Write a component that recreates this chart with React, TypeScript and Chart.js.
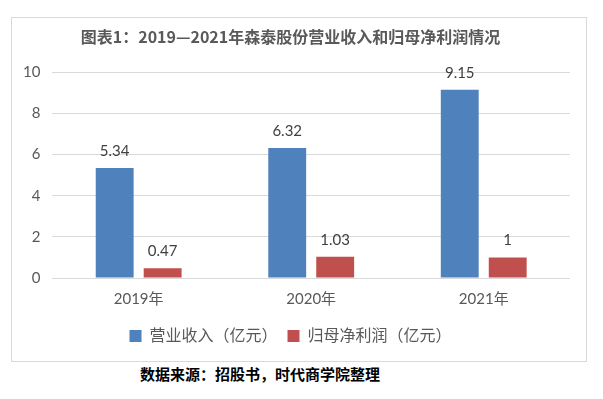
import React, { useEffect, useRef } from "react";
import { Chart, registerables } from "chart.js";

Chart.register(...registerables);

const categories = ["2019年", "2020年", "2021年"];
const revenue = [5.34, 6.32, 9.15];
const netProfit = [0.47, 1.03, 1.0];
const revenueLabels = ["5.34", "6.32", "9.15"];
const profitLabels = ["0.47", "1.03", "1"];
const seriesNames = ["营业收入（亿元）", "归母净利润（亿元）"];
const yTicks = [0, 2, 4, 6, 8, 10];
const titleText = "图表1：2019—2021年森泰股份营业收入和归母净利润情况";
const sourceText = "数据来源：招股书，时代商学院整理";

const FONT = "Lato, 'Noto Sans CJK SC', sans-serif";

const valueLabelPlugin = {
  id: "valueLabels",
  afterDatasetsDraw(chart: any) {
    const ctx = chart.ctx;
    const all = [revenueLabels, profitLabels];
    ctx.save();
    ctx.font = `15px ${FONT}`;
    ctx.fillStyle = "#404040";
    ctx.textAlign = "center";
    ctx.textBaseline = "alphabetic";
    chart.data.datasets.forEach((_: any, di: number) => {
      const meta = chart.getDatasetMeta(di);
      meta.data.forEach((bar: any, i: number) => {
        ctx.fillText(all[di][i], bar.x, bar.y - 12);
      });
    });
    ctx.restore();
  },
};

export default function App() {
  const ref = useRef<HTMLCanvasElement>(null);
  useEffect(() => {
    if (!ref.current) return;
    const chart = new Chart(ref.current, {
      type: "bar",
      data: {
        labels: categories,
        datasets: [
          {
            label: seriesNames[0],
            data: revenue,
            backgroundColor: "#4f81bd",
            barPercentage: 0.79,
            categoryPercentage: 0.556,
          },
          {
            label: seriesNames[1],
            data: netProfit,
            backgroundColor: "#c0504d",
            barPercentage: 0.79,
            categoryPercentage: 0.556,
          },
        ],
      },
      options: {
        responsive: false,
        animation: false,
        layout: { padding: { left: -1, right: 16, top: 0, bottom: 7 } },
        plugins: {
          title: {
            display: true,
            text: titleText,
            color: "#595959",
            font: { family: "'Noto Sans CJK SC', sans-serif", size: 16, weight: "bold" },
            padding: { top: 9, bottom: 26 },
          },
          legend: {
            position: "bottom",
            labels: {
              color: "#595959",
              font: { family: FONT, size: 16 },
              boxWidth: 12,
              boxHeight: 12,
              padding: 10,
            },
          },
          tooltip: { enabled: false },
        },
        scales: {
          x: {
            grid: { display: false },
            border: { display: false },
            ticks: { color: "#595959", font: { family: FONT, size: 15 }, padding: 4 },
            afterFit: (axis: any) => {
              axis.height += 6;
            },
          },
          y: {
            min: 0,
            max: 10,
            afterBuildTicks: (axis: any) => {
              axis.ticks = yTicks.map((v) => ({ value: v }));
            },
            grid: { color: "#d9d9d9", drawTicks: false },
            border: { display: false },
            ticks: { color: "#595959", font: { family: FONT, size: 15 }, padding: 12 },
          },
        },
      },
      plugins: [valueLabelPlugin],
    });
    return () => chart.destroy();
  }, []);

  return (
    <div style={{ position: "absolute", left: 0, top: 0, width: 603, height: 399, background: "#fff" }}>
      <div
        style={{
          position: "absolute",
          left: 11,
          top: 17,
          width: 574,
          height: 343,
          border: "1px solid #d9d9d9",
        }}
      >
        <canvas ref={ref} width={574} height={343} style={{ display: "block" }} />
      </div>
      <div
        style={{
          position: "absolute",
          left: 0,
          top: 364,
          width: 520,
          textAlign: "center",
          fontFamily: "'Noto Sans CJK SC', sans-serif",
          fontWeight: "bold",
          fontSize: 15,
          lineHeight: "20px",
          color: "#000",
        }}
      >
        {sourceText}
      </div>
    </div>
  );
}
